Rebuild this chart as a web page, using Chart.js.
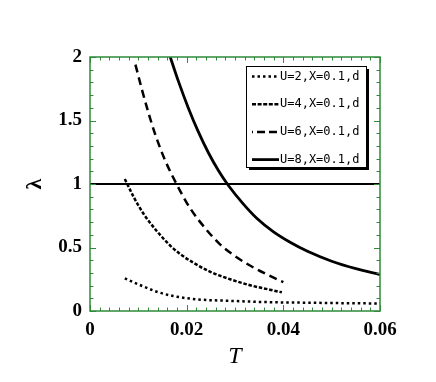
<!DOCTYPE html>
<html>
<head>
<meta charset="utf-8">
<script src="https://cdn.jsdelivr.net/npm/chart.js@4/dist/chart.umd.min.js"></script>
<style>
  html, body { margin: 0; padding: 0; background: #fff; }
  #wrap { width: 436px; height: 382px; }
</style>
</head>
<body>
<div id="wrap"><canvas id="lambdaChart" width="436" height="382"></canvas></div>
<script>
// data
const seriesLabels = ['U=2,X=0.1,d', 'U=4,X=0.1,d', 'U=6,X=0.1,d', 'U=8,X=0.1,d'];

const u2T = [0.0072, 0.0103, 0.0138, 0.0172, 0.0221, 0.0297, 0.0366, 0.0455, 0.052, 0.06];
const u2L = [0.257, 0.205, 0.152, 0.118, 0.092, 0.079, 0.070, 0.065, 0.062, 0.059];

const u4T = [0.0072, 0.009, 0.011, 0.0138, 0.0166, 0.0186, 0.0214, 0.0248, 0.029, 0.0331, 0.0372, 0.0397];
const u4L = [1.04, 0.90, 0.77, 0.63, 0.515, 0.45, 0.38, 0.31, 0.25, 0.203, 0.168, 0.147];

const u6T = [0.0094, 0.0107, 0.0121, 0.0135, 0.0155, 0.0179, 0.0207, 0.0241, 0.0269, 0.0297, 0.0331, 0.0366, 0.040];
const u6L = [1.94, 1.75, 1.56, 1.39, 1.19, 1.0, 0.81, 0.64, 0.525, 0.44, 0.358, 0.288, 0.227];

const u8T = [0.0166, 0.0183, 0.0203, 0.0224, 0.0245, 0.0266, 0.0286, 0.0317, 0.0345, 0.0379, 0.0414, 0.045, 0.050, 0.055, 0.06];
const u8L = [2.0, 1.808, 1.603, 1.412, 1.246, 1.104, 0.99, 0.843, 0.73, 0.625, 0.541, 0.47, 0.392, 0.333, 0.287];

// reference line lambda = 1
const refT = [0, 0.06];
const refL = [1, 1];

const xTickLabels = ['0', '0.02', '0.04', '0.06'];
const yTickLabels = ['0', '0.5', '1', '1.5', '2'];

function pts(xs, ys) {
    return xs.map((x, i) => ({ x: x, y: ys[i] }));
}

// frame + inward ticks on all four sides
const framePlugin = {
    id: 'frame',
    afterDatasetsDraw(chart) {
        const { ctx, chartArea: a, scales } = chart;
        const xs = scales.x, ys = scales.y;
        ctx.save();
        ctx.strokeStyle = '#2f8a3a';
        ctx.lineWidth = 1.5;
        ctx.strokeRect(a.left, a.top, a.right - a.left, a.bottom - a.top);
        ctx.lineWidth = 1;
        ctx.beginPath();
        for (let i = 0; i <= 30; i++) {
            const v = i * 0.002;
            const px = Math.round(xs.getPixelForValue(v)) + 0.5;
            const len = (i % 10 === 0) ? 6 : 3.5;
            ctx.moveTo(px, a.bottom); ctx.lineTo(px, a.bottom - len);
            ctx.moveTo(px, a.top); ctx.lineTo(px, a.top + len);
        }
        for (let i = 0; i <= 20; i++) {
            const v = i * 0.1;
            const py = Math.round(ys.getPixelForValue(v)) + 0.5;
            const len = (i % 5 === 0) ? 6 : 3.5;
            ctx.moveTo(a.left, py); ctx.lineTo(a.left + len, py);
            ctx.moveTo(a.right, py); ctx.lineTo(a.right - len, py);
        }
        ctx.stroke();
        ctx.restore();
    }
};

// boxed legend with drop shadow, top right inside the plot
const boxLegend = {
    id: 'boxLegend',
    afterDraw(chart) {
        const ctx = chart.ctx;
        const bx = 246, by = 66, bw = 120, bh = 101;
        ctx.save();
        ctx.fillStyle = '#000';
        ctx.fillRect(bx + 3, by + 3, bw, bh);
        ctx.fillStyle = '#fff';
        ctx.fillRect(bx, by, bw, bh);
        ctx.strokeStyle = '#000';
        ctx.lineWidth = 1;
        ctx.strokeRect(bx + 0.5, by + 0.5, bw, bh);
        ctx.font = '12px "DejaVu Sans Mono"';
        ctx.textBaseline = 'middle';
        ctx.fillStyle = '#000';
        chart.data.datasets.forEach((ds, i) => {
            if (i >= seriesLabels.length) return;
            const y = by + 10.5 + i * 27.7;
            ctx.beginPath();
            ctx.setLineDash(ds.legendDash || ds.borderDash || []);
            ctx.lineDashOffset = ds.legendDashOffset || 0;
            ctx.lineWidth = ds.borderWidth;
            ctx.strokeStyle = ds.borderColor;
            ctx.moveTo(252, y);
            ctx.lineTo(279, y);
            ctx.stroke();
            ctx.setLineDash([]);
            ctx.fillText(ds.label, 280, y);
        });
        ctx.restore();
    }
};

const ctx = document.getElementById('lambdaChart').getContext('2d');
const chart = new Chart(ctx, {
    type: 'scatter',
    data: {
        datasets: [
            {
                label: seriesLabels[0],
                data: pts(u2T, u2L),
                borderColor: '#000',
                borderWidth: 2.5,
                borderDash: [2.5, 3],
                legendDash: [2.5, 3],
                showLine: true,
                pointRadius: 0,
                cubicInterpolationMode: 'monotone'
            },
            {
                label: seriesLabels[1],
                data: pts(u4T, u4L),
                borderColor: '#000',
                borderWidth: 2.5,
                borderDash: [3.5, 1.8],
                legendDash: [4, 1.6],
                showLine: true,
                pointRadius: 0,
                cubicInterpolationMode: 'monotone'
            },
            {
                label: seriesLabels[2],
                data: pts(u6T, u6L),
                borderColor: '#000',
                borderWidth: 2.5,
                borderDash: [8, 5],
                legendDash: [8, 4],
                legendDashOffset: 7,
                showLine: true,
                pointRadius: 0,
                cubicInterpolationMode: 'monotone'
            },
            {
                label: seriesLabels[3],
                data: pts(u8T, u8L),
                borderColor: '#000',
                borderWidth: 2.8,
                showLine: true,
                pointRadius: 0,
                cubicInterpolationMode: 'monotone'
            },
            {
                label: 'lambda=1',
                data: pts(refT, refL),
                borderColor: '#000',
                borderWidth: 2,
                showLine: true,
                pointRadius: 0
            }
        ]
    },
    options: {
        responsive: false,
        animation: false,
        layout: { padding: { left: 0, top: 57, right: 56, bottom: 0 } },
        plugins: {
            legend: { display: false },
            tooltip: { enabled: false }
        },
        scales: {
            x: {
                type: 'linear',
                min: 0,
                max: 0.06,
                grid: { display: false, drawTicks: false },
                border: { display: false },
                ticks: {
                    stepSize: 0.02,
                    padding: 8,
                    color: '#000',
                    maxRotation: 0,
                    font: { family: '"Liberation Serif"', size: 19, weight: 'bold' },
                    callback: function(value, index) {
                        return xTickLabels[index];
                    }
                },
                title: {
                    display: true,
                    text: 'T',
                    color: '#000',
                    padding: { top: 0, bottom: 11 },
                    font: { family: '"Liberation Serif"', size: 24, style: 'italic' }
                },
                afterFit: function(scale) { scale.height = 71; }
            },
            y: {
                type: 'linear',
                min: 0,
                max: 2,
                grid: { display: false, drawTicks: false },
                border: { display: false },
                ticks: {
                    stepSize: 0.5,
                    padding: 8,
                    color: '#000',
                    font: { family: '"Liberation Serif"', size: 19, weight: 'bold' },
                    callback: function(value, index) {
                        return yTickLabels[index];
                    }
                },
                title: {
                    display: true,
                    text: 'λ',
                    color: '#000',
                    padding: { top: 22, bottom: 0 },
                    font: { family: '"Liberation Serif"', size: 22, weight: 'bold' }
                },
                afterFit: function(scale) { scale.width = 90; }
            }
        }
    },
    plugins: [framePlugin, boxLegend]
});
</script>
</body>
</html>
